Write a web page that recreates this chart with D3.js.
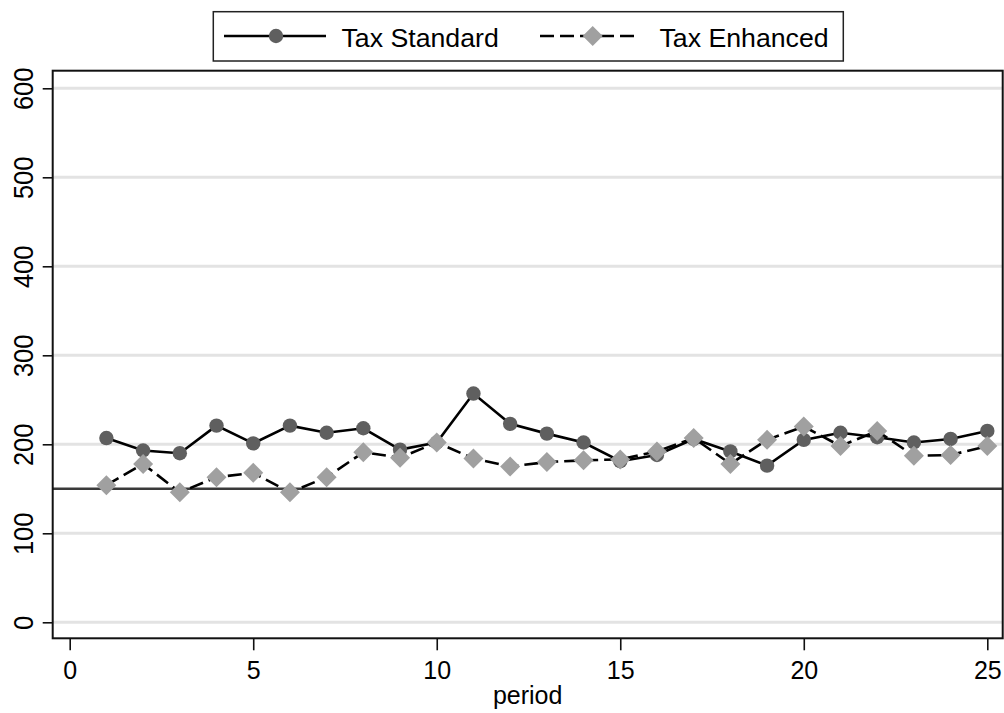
<!DOCTYPE html>
<html><head>
<meta charset="utf-8">
<script src="https://d3js.org/d3.v7.min.js"></script>
<style>
  body { margin: 0; background: #fff; }
  svg { display: block; font-family: "Liberation Sans", Arial, sans-serif; }
</style>
</head>
<body>
<div id="chart"></div>
<script>
  // Data
  const periods = d3.range(1, 26);
  const taxStandard = [207, 193, 190, 221, 201, 221, 213, 218, 194, 202, 257, 223, 212, 202, 181,
                       188, 206, 192, 176, 205, 213, 208, 202, 206, 215];
  const taxEnhanced = [154, 178, 146, 163, 168, 146, 163, 191, 185, 202, 184, 175, 180, 182, 183,
                       192, 207, 178, 205, 220, 198, 215, 187, 188, 198];
  const xTicks = [0, 5, 10, 15, 20, 25];
  const yTicks = [0, 100, 200, 300, 400, 500, 600];
  const refLine = 150;
  const seriesNames = ["Tax Standard", "Tax Enhanced"];

  const width = 1004, height = 713;
  const plot = { left: 52.7, right: 1002.7, top: 70.7, bottom: 638.3 };

  const svg = d3.select("#chart").append("svg")
                .attr("width", width)
                .attr("height", height);

  const xScale = d3.scaleLinear().domain([0, 25]).range([69.7, 987.3]);
  const yScale = d3.scaleLinear().domain([0, 600]).range([622.3, 88.3]);

  // gridlines
  svg.append("g").selectAll("line")
     .data(yTicks)
     .join("line")
     .attr("x1", plot.left).attr("x2", plot.right)
     .attr("y1", d => yScale(d)).attr("y2", d => yScale(d))
     .attr("stroke", "#e3e3e3")
     .attr("stroke-width", 3);

  // reference line
  svg.append("line")
     .attr("x1", plot.left).attr("x2", plot.right)
     .attr("y1", yScale(refLine)).attr("y2", yScale(refLine))
     .attr("stroke", "#3a3a3a")
     .attr("stroke-width", 2.5);

  // frame
  svg.append("rect")
     .attr("x", plot.left).attr("y", plot.top)
     .attr("width", plot.right - plot.left)
     .attr("height", plot.bottom - plot.top)
     .attr("fill", "none")
     .attr("stroke", "#111")
     .attr("stroke-width", 2);

  // y axis
  const yAxis = svg.append("g")
     .attr("transform", "translate(" + plot.left + ",0)")
     .call(d3.axisLeft(yScale).tickValues(yTicks).tickSize(10).tickFormat(d3.format("d")));
  yAxis.select(".domain").remove();
  yAxis.selectAll(".tick line").attr("stroke", "#111").attr("stroke-width", 1.6);
  yAxis.selectAll(".tick text")
       .attr("x", null).attr("dy", null)
       .attr("transform", "translate(" + (32.5 - plot.left) + ",0) rotate(-90) scale(1,1.12)")
       .attr("text-anchor", "middle")
       .attr("font-size", 25.5)
       .attr("fill", "#000");

  // x axis
  const xAxis = svg.append("g")
     .attr("transform", "translate(0," + plot.bottom + ")")
     .call(d3.axisBottom(xScale).tickValues(xTicks).tickSize(12).tickFormat(d3.format("d")));
  xAxis.select(".domain").remove();
  xAxis.selectAll(".tick line").attr("stroke", "#111").attr("stroke-width", 1.6);
  xAxis.selectAll(".tick text")
       .attr("y", 0).attr("dy", null)
       .attr("transform", "translate(0,40.7) scale(1,1.05)")
       .attr("font-size", 25)
       .attr("fill", "#000");

  svg.append("text")
     .attr("x", (plot.left + plot.right) / 2)
     .attr("y", 704)
     .attr("text-anchor", "middle")
     .attr("font-size", 25)
     .text("period");

  const line = d3.line().x((d, i) => xScale(periods[i])).y(d => yScale(d));
  const diamond = (cx, cy, r) => "M" + cx + "," + (cy - r) + "L" + (cx + r) + "," + cy +
                                 "L" + cx + "," + (cy + r) + "L" + (cx - r) + "," + cy + "Z";

  // Tax Standard
  svg.append("path").datum(taxStandard)
     .attr("d", line)
     .attr("fill", "none").attr("stroke", "#000").attr("stroke-width", 2.6);
  svg.append("g").selectAll("circle")
     .data(taxStandard)
     .join("circle")
     .attr("cx", (d, i) => xScale(periods[i]))
     .attr("cy", d => yScale(d))
     .attr("r", 7.2)
     .attr("fill", "#5f5f5f");

  // Tax Enhanced
  svg.append("path").datum(taxEnhanced)
     .attr("d", line)
     .attr("fill", "none").attr("stroke", "#000").attr("stroke-width", 2.6)
     .attr("stroke-dasharray", "14,6");
  svg.append("g").selectAll("path")
     .data(taxEnhanced)
     .join("path")
     .attr("d", (d, i) => diamond(xScale(periods[i]), yScale(d), 10))
     .attr("fill", "#a0a0a0");

  // legend
  const legend = svg.append("g");
  legend.append("rect")
        .attr("x", 213.3).attr("y", 11.7)
        .attr("width", 630).attr("height", 49.3)
        .attr("fill", "#fff").attr("stroke", "#222").attr("stroke-width", 1.5);
  legend.append("line")
        .attr("x1", 224).attr("x2", 326).attr("y1", 36).attr("y2", 36)
        .attr("stroke", "#000").attr("stroke-width", 2.6);
  legend.append("circle").attr("cx", 276).attr("cy", 36).attr("r", 7.2).attr("fill", "#5f5f5f");
  legend.append("text")
        .attr("x", 341.5).attr("y", 46.5)
        .attr("font-size", 26.7)
        .text(seriesNames[0]);
  legend.append("line")
        .attr("x1", 540).attr("x2", 640).attr("y1", 36).attr("y2", 36)
        .attr("stroke", "#000").attr("stroke-width", 2.6)
        .attr("stroke-dasharray", "14,6");
  legend.append("path").attr("d", diamond(592.7, 36, 10)).attr("fill", "#a0a0a0");
  legend.append("text")
        .attr("x", 659.5).attr("y", 46.5)
        .attr("font-size", 26.7)
        .text(seriesNames[1]);
</script>
</body>
</html>
